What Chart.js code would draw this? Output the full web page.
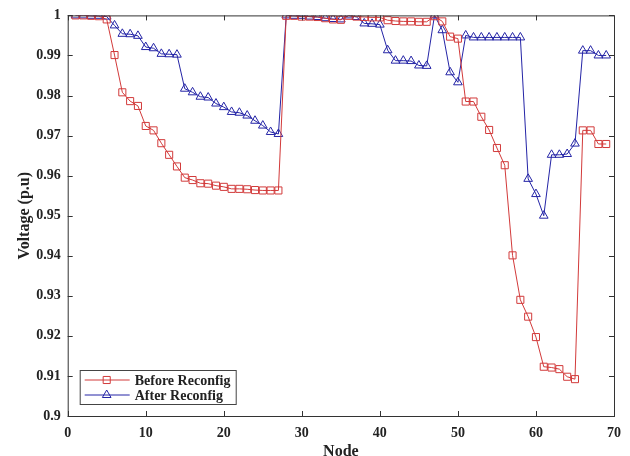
<!DOCTYPE html>
<html>
<head>
<meta charset="utf-8">
<script src="https://cdn.jsdelivr.net/npm/chart.js@4.4.1/dist/chart.umd.min.js"></script>
<style>
	html, body { margin: 0; padding: 0; background: #fff; }
	#wrap { width: 630px; height: 456px; }
</style>
</head>
<body>
<div id="wrap"><canvas id="volt" width="630" height="456"></canvas></div>
<script>
// bus numbers of the 69-bus feeder
const nodes = Array.from({ length: 69 }, (_, i) => i + 1);

const before_reconfig = [
	1.0000, 1.0000, 0.9999, 0.9998, 0.9990, 0.9901, 0.9808, 0.9786, 0.9774, 0.9724,
	0.9713, 0.9681, 0.9652, 0.9623, 0.9595, 0.9589, 0.9581, 0.9580, 0.9575, 0.9572,
	0.9567, 0.9567, 0.9566, 0.9564, 0.9563, 0.9563, 0.9563, 0.9999, 0.9999, 0.9997,
	0.9997, 0.9996, 0.9993, 0.9990, 0.9989, 0.9999, 0.9997, 0.9996, 0.9995, 0.9995,
	0.9988, 0.9986, 0.9985, 0.9985, 0.9984, 0.9984, 0.9998, 0.9985, 0.9947, 0.9942,
	0.9785, 0.9785, 0.9747, 0.9714, 0.9669, 0.9626, 0.9401, 0.9290, 0.9248, 0.9197,
	0.9123, 0.9121, 0.9117, 0.9098, 0.9092, 0.9713, 0.9713, 0.9679, 0.9679
];

const after_reconfig = [
	1.0000, 1.0000, 0.9999, 0.9999, 0.9997, 0.9975, 0.9954, 0.9953, 0.9949, 0.9921,
	0.9918, 0.9904, 0.9903, 0.9902, 0.9817, 0.9808, 0.9797, 0.9795, 0.9780, 0.9771,
	0.9759, 0.9757, 0.9750, 0.9737, 0.9725, 0.9709, 0.9704, 1.0000, 0.9999, 0.9999,
	0.9997, 0.9996, 0.9993, 0.9991, 0.9990, 1.0000, 0.9996, 0.9980, 0.9979, 0.9977,
	0.9913, 0.9887, 0.9887, 0.9886, 0.9875, 0.9874, 1.0000, 0.9963, 0.9858, 0.9833,
	0.9950, 0.9945, 0.9945, 0.9945, 0.9945, 0.9945, 0.9945, 0.9945, 0.9592, 0.9554,
	0.9500, 0.9652, 0.9652, 0.9654, 0.9680, 0.9912, 0.9912, 0.9900, 0.9900
];

const series_names = ['Before Reconfig', 'After Reconfig'];
const FONT = "'Liberation Serif', 'Times New Roman', serif";
const AXIS_COLOR = '#333';

const to_points = (vals) => vals.map((v, i) => ({ x: nodes[i], y: v }));

// matlab style box with ticks pointing inwards
const box_plugin = {
	id: 'box_plugin',
	afterDraw(chart) {
		const { ctx, chartArea: a, scales } = chart;
		const len = 5;
		ctx.save();
		ctx.strokeStyle = AXIS_COLOR;
		ctx.lineWidth = 1;
		ctx.strokeRect(a.left + 0.5, a.top + 0.5, a.right - a.left, a.bottom - a.top);
		ctx.beginPath();
		scales.x.ticks.forEach(t => {
			const px = Math.round(scales.x.getPixelForValue(t.value)) + 0.5;
			ctx.moveTo(px, a.bottom); ctx.lineTo(px, a.bottom - len);
			ctx.moveTo(px, a.top); ctx.lineTo(px, a.top + len);
		});
		scales.y.ticks.forEach(t => {
			const py = Math.round(scales.y.getPixelForValue(t.value)) + 0.5;
			ctx.moveTo(a.left, py); ctx.lineTo(a.left + len, py);
			ctx.moveTo(a.right, py); ctx.lineTo(a.right - len, py);
		});
		ctx.stroke();
		ctx.restore();
	}
};

// legend box inside the lower left corner
const legend_plugin = {
	id: 'legend_plugin',
	afterDraw(chart) {
		const { ctx, chartArea: a } = chart;
		const x0 = a.left + 12, y0 = a.bottom - 46, w = 156, h = 34;
		ctx.save();
		ctx.fillStyle = '#fff';
		ctx.fillRect(x0, y0, w, h);
		ctx.strokeStyle = '#444';
		ctx.lineWidth = 1;
		ctx.strokeRect(x0 + 0.5, y0 + 0.5, w, h);
		ctx.font = 'bold 14px ' + FONT;
		ctx.textBaseline = 'middle';
		chart.data.datasets.forEach((ds, i) => {
			const cy = y0 + 10 + i * 15;
			ctx.strokeStyle = ds.borderColor;
			ctx.fillStyle = 'rgba(0,0,0,0)';
			ctx.beginPath();
			ctx.moveTo(x0 + 5, cy); ctx.lineTo(x0 + 50, cy);
			ctx.stroke();
			Chart.helpers.drawPoint(ctx, {
				pointStyle: ds.pointStyle,
				radius: ds.pointRadius,
				borderWidth: 1
			}, x0 + 27, cy);
			ctx.fillStyle = '#222';
			ctx.fillText(ds.label, x0 + 55, cy + 1);
		});
		ctx.restore();
	}
};

const make_set = (label, vals, color, style) => ({
	label: label,
	data: to_points(vals),
	borderColor: color,
	backgroundColor: 'rgba(0,0,0,0)',
	borderWidth: 1,
	pointStyle: style,
	pointRadius: 5,
	pointBorderWidth: 1,
	pointBackgroundColor: 'rgba(0,0,0,0)',
	pointBorderColor: color,
	tension: 0
});

new Chart(document.getElementById('volt'), {
	type: 'line',
	data: {
		datasets: [
			make_set(series_names[0], before_reconfig, '#d23a3a', 'rect'),
			make_set(series_names[1], after_reconfig, '#2424a6', 'triangle')
		]
	},
	options: {
		responsive: false,
		animation: false,
		layout: { padding: { top: 9, right: 13, left: 15, bottom: -5 } },
		plugins: {
			legend: { display: false },
			tooltip: { enabled: false }
		},
		scales: {
			x: {
				type: 'linear',
				min: 0,
				max: 70,
				grid: { display: false, drawTicks: false },
				border: { display: false },
				ticks: {
					stepSize: 10,
					padding: 9,
					color: '#222',
					font: { family: FONT, size: 14, weight: 'bold' }
				},
				title: {
					display: true,
					text: 'Node',
					color: '#222',
					padding: { top: -9, bottom: 0 },
					font: { family: FONT, size: 16, weight: 'bold' }
				}
			},
			y: {
				min: 0.9,
				max: 1,
				grid: { display: false, drawTicks: false },
				border: { display: false },
				ticks: {
					stepSize: 0.01,
					padding: 7,
					color: '#222',
					font: { family: FONT, size: 14, weight: 'bold' },
					callback: (v) => String(+v.toFixed(2))
				},
				title: {
					display: true,
					text: 'Voltage (p.u)',
					color: '#222',
					padding: { top: 0, bottom: -5 },
					font: { family: FONT, size: 16, weight: 'bold' }
				}
			}
		}
	},
	plugins: [box_plugin, legend_plugin]
});
</script>
</body>
</html>
